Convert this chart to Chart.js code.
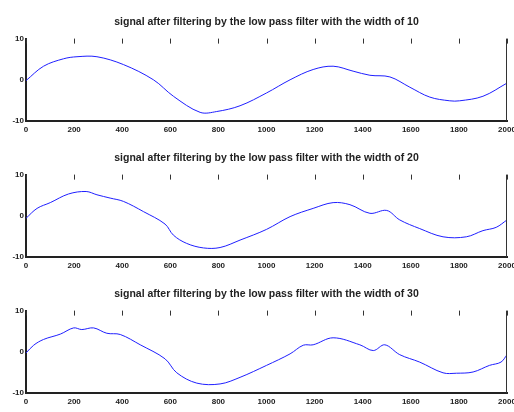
<!DOCTYPE html>
<html>
<head>
<meta charset="utf-8">
<script src="https://cdn.jsdelivr.net/npm/chart.js@4"></script>
<style>
  body { margin: 0; background: #fff; }
  .plot { position: absolute; left: 0; width: 514px; height: 136px; }
</style>
</head>
<body>
<div class="plot" style="top:0px"><canvas id="plot10"></canvas></div>
<div class="plot" style="top:136px"><canvas id="plot20"></canvas></div>
<div class="plot" style="top:272px"><canvas id="plot30"></canvas></div>
<script>
// DATA
const xTicks = [0, 200, 400, 600, 800, 1000, 1200, 1400, 1600, 1800, 2000];
const yTicks = [-10, 0, 10];

const x10 = [0, 73, 156, 212, 295, 405, 530, 613, 724, 793, 890, 1000, 1098, 1194, 1277, 1360, 1430, 1513, 1596, 1679, 1762, 1803, 1900, 2000];
const y10 = [-0.2, 3.3, 5.1, 5.6, 5.6, 3.7, 0, -4, -7.9, -7.7, -6.3, -3.2, 0, 2.5, 3.3, 2.1, 1.1, 0.7, -1.8, -4.2, -5.1, -5.1, -4, -0.8];

const x20 = [0, 46, 101, 177, 250, 295, 350, 405, 489, 578, 613, 668, 738, 807, 890, 1000, 1098, 1194, 1277, 1347, 1430, 1500, 1554, 1637, 1734, 1831, 1900, 1955, 2000];
const y20 = [-0.6, 1.8, 3.2, 5.3, 5.9, 5.1, 4.3, 3.5, 1, -2, -4.7, -6.7, -7.8, -7.7, -5.9, -3.3, -0.2, 1.8, 3.2, 2.7, 0.6, 1.3, -1, -3.1, -5.1, -5.1, -3.6, -2.8, -1];

const x30 = [0, 32, 73, 143, 198, 232, 281, 336, 392, 475, 578, 627, 710, 807, 890, 1000, 1098, 1153, 1194, 1277, 1388, 1444, 1492, 1554, 1637, 1734, 1790, 1859, 1927, 1975, 2000];
const y30 = [-0.3, 1.6, 3, 4.3, 5.8, 5.4, 5.8, 4.5, 4.2, 1.7, -1.7, -5.1, -7.6, -7.8, -6.2, -3.3, -0.5, 1.6, 1.7, 3.4, 1.7, 0.3, 1.7, -0.7, -2.5, -5.1, -5.2, -4.9, -3.3, -2.5, -0.7];

const titleBase = 'signal after filtering by the low pass filter with the width of ';
const tickFont = { family: "'Liberation Sans', Arial", size: 8, weight: 'bold' };

// top tick marks and right border, matlab style
const frame = {
    id: 'frame',
    afterDraw(chart) {
        const ctx = chart.ctx;
        const a = chart.chartArea;
        const xs = chart.scales.x;
        ctx.save();
        ctx.strokeStyle = '#333';
        ctx.lineWidth = 1;
        ctx.beginPath();
        xTicks.forEach(t => {
            const px = Math.round(xs.getPixelForValue(t)) + 0.5;
            ctx.moveTo(px, a.top);
            ctx.lineTo(px, a.top + 5);
        });
        ctx.moveTo(a.right - 0.5, a.top);
        ctx.lineTo(a.right - 0.5, a.bottom);
        ctx.stroke();
        ctx.restore();
    }
};

function makePlot(id, xs, ys, width) {
    const data = {
        datasets: [{
            data: xs.map((x, i) => ({ x: x, y: ys[i] })),
            borderColor: '#1f1fff',
            borderWidth: 1,
            pointRadius: 0,
            tension: 0.35,
            fill: false
        }]
    };
    const config = {
        type: 'line',
        data,
        options: {
            responsive: true,
            maintainAspectRatio: false,
            animation: false,
            layout: { padding: { left: 0, right: 7, top: 0, bottom: 0 } },
            plugins: {
                legend: { display: false },
                tooltip: { enabled: false },
                title: {
                    display: true,
                    fullSize: false,
                    text: titleBase + width,
                    color: '#222',
                    font: { family: "'Liberation Sans', Arial", size: 10.5, weight: 'bold' },
                    padding: { top: 16, bottom: 10 }
                }
            },
            scales: {
                x: {
                    type: 'linear',
                    min: 0,
                    max: 2000,
                    afterBuildTicks: s => { s.ticks = xTicks.map(v => ({ value: v })); },
                    afterFit: s => { s.height = 15; s.paddingLeft = 0; s.paddingRight = 0; },
                    grid: { display: false, drawTicks: false },
                    border: { display: true, color: '#222', width: 2 },
                    ticks: {
                        color: '#222',
                        padding: 4,
                        maxRotation: 0,
                        font: tickFont,
                        callback: v => String(v)
                    }
                },
                y: {
                    min: -10,
                    max: 10,
                    afterBuildTicks: s => { s.ticks = yTicks.map(v => ({ value: v })); },
                    afterFit: s => { s.width = 26; s.paddingTop = 0; s.paddingBottom = 0; },
                    grid: { display: false, drawTicks: false },
                    border: { display: true, color: '#222', width: 2 },
                    ticks: {
                        color: '#222',
                        padding: 2,
                        font: tickFont,
                        callback: v => String(v)
                    }
                }
            }
        },
        plugins: [frame]
    };
    return new Chart(document.getElementById(id).getContext('2d'), config);
}

const plot10 = makePlot('plot10', x10, y10, 10);
const plot20 = makePlot('plot20', x20, y20, 20);
const plot30 = makePlot('plot30', x30, y30, 30);
</script>
</body>
</html>
